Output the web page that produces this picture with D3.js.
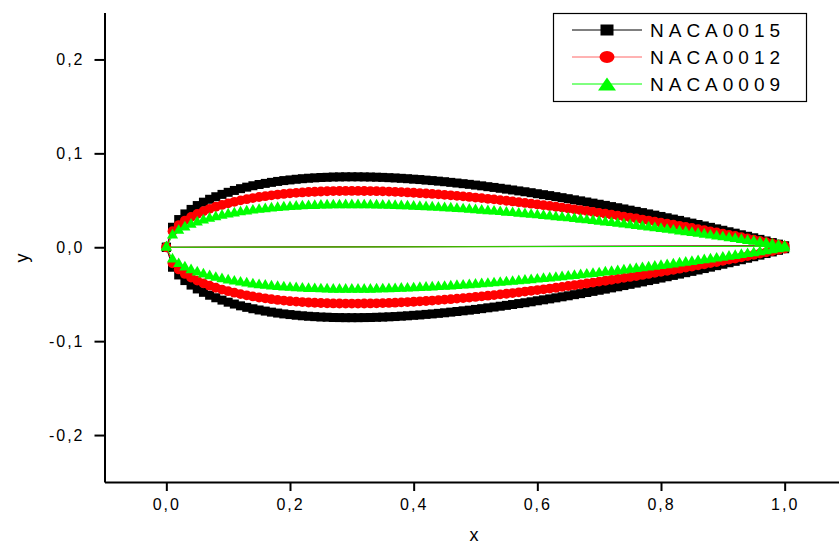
<!DOCTYPE html>
<html>
<head>
<meta charset="utf-8">
<script src="https://cdn.jsdelivr.net/npm/d3@7"></script>
<style>
  html, body { margin: 0; padding: 0; background: #fff; }
  text { font-family: "Liberation Sans", Arial, sans-serif; }
</style>
</head>
<body>
<svg id="chart" width="839" height="544"></svg>
<script>
// chord positions, 0.00 .. 1.00
var xs = [0, 0.01, 0.02, 0.03, 0.04, 0.05, 0.06, 0.07, 0.08, 0.09,
          0.10, 0.11, 0.12, 0.13, 0.14, 0.15, 0.16, 0.17, 0.18, 0.19,
          0.20, 0.21, 0.22, 0.23, 0.24, 0.25, 0.26, 0.27, 0.28, 0.29,
          0.30, 0.31, 0.32, 0.33, 0.34, 0.35, 0.36, 0.37, 0.38, 0.39,
          0.40, 0.41, 0.42, 0.43, 0.44, 0.45, 0.46, 0.47, 0.48, 0.49,
          0.50, 0.51, 0.52, 0.53, 0.54, 0.55, 0.56, 0.57, 0.58, 0.59,
          0.60, 0.61, 0.62, 0.63, 0.64, 0.65, 0.66, 0.67, 0.68, 0.69,
          0.70, 0.71, 0.72, 0.73, 0.74, 0.75, 0.76, 0.77, 0.78, 0.79,
          0.80, 0.81, 0.82, 0.83, 0.84, 0.85, 0.86, 0.87, 0.88, 0.89,
          0.90, 0.91, 0.92, 0.93, 0.94, 0.95, 0.96, 0.97, 0.98, 0.99,
          1.00];

var upper0015 = [0, 0.0213, 0.0295, 0.0355, 0.0403, 0.0444, 0.0480, 0.0511, 0.0538, 0.0563,
                 0.0585, 0.0605, 0.0624, 0.0640, 0.0655, 0.0668, 0.0680, 0.0691, 0.0701, 0.0710,
                 0.0717, 0.0724, 0.0730, 0.0735, 0.0739, 0.0743, 0.0745, 0.0748, 0.0749, 0.0750,
                 0.0750, 0.0750, 0.0749, 0.0748, 0.0746, 0.0744, 0.0741, 0.0738, 0.0734, 0.0730,
                 0.0725, 0.0721, 0.0715, 0.0710, 0.0704, 0.0698, 0.0691, 0.0684, 0.0677, 0.0670,
                 0.0662, 0.0654, 0.0645, 0.0637, 0.0628, 0.0619, 0.0610, 0.0600, 0.0591, 0.0581,
                 0.0570, 0.0560, 0.0550, 0.0539, 0.0528, 0.0517, 0.0505, 0.0494, 0.0482, 0.0470,
                 0.0458, 0.0446, 0.0433, 0.0421, 0.0408, 0.0395, 0.0382, 0.0369, 0.0355, 0.0342,
                 0.0328, 0.0314, 0.0300, 0.0286, 0.0271, 0.0257, 0.0242, 0.0227, 0.0212, 0.0196,
                 0.0181, 0.0165, 0.0150, 0.0133, 0.0117, 0.0101, 0.0084, 0.0067, 0.0050, 0.0033,
                 0.0016];
var lower0015 = [0, -0.0213, -0.0295, -0.0355, -0.0403, -0.0444, -0.0480, -0.0511, -0.0538, -0.0563,
                 -0.0585, -0.0605, -0.0624, -0.0640, -0.0655, -0.0668, -0.0680, -0.0691, -0.0701, -0.0710,
                 -0.0717, -0.0724, -0.0730, -0.0735, -0.0739, -0.0743, -0.0745, -0.0748, -0.0749, -0.0750,
                 -0.0750, -0.0750, -0.0749, -0.0748, -0.0746, -0.0744, -0.0741, -0.0738, -0.0734, -0.0730,
                 -0.0725, -0.0721, -0.0715, -0.0710, -0.0704, -0.0698, -0.0691, -0.0684, -0.0677, -0.0670,
                 -0.0662, -0.0654, -0.0645, -0.0637, -0.0628, -0.0619, -0.0610, -0.0600, -0.0591, -0.0581,
                 -0.0570, -0.0560, -0.0550, -0.0539, -0.0528, -0.0517, -0.0505, -0.0494, -0.0482, -0.0470,
                 -0.0458, -0.0446, -0.0433, -0.0421, -0.0408, -0.0395, -0.0382, -0.0369, -0.0355, -0.0342,
                 -0.0328, -0.0314, -0.0300, -0.0286, -0.0271, -0.0257, -0.0242, -0.0227, -0.0212, -0.0196,
                 -0.0181, -0.0165, -0.0150, -0.0133, -0.0117, -0.0101, -0.0084, -0.0067, -0.0050, -0.0033,
                 -0.0016];

var upper0012 = [0, 0.0170, 0.0236, 0.0284, 0.0323, 0.0355, 0.0384, 0.0409, 0.0431, 0.0451,
                 0.0468, 0.0484, 0.0499, 0.0512, 0.0524, 0.0535, 0.0544, 0.0553, 0.0561, 0.0568,
                 0.0574, 0.0579, 0.0584, 0.0588, 0.0591, 0.0594, 0.0596, 0.0598, 0.0599, 0.0600,
                 0.0600, 0.0600, 0.0599, 0.0598, 0.0597, 0.0595, 0.0593, 0.0590, 0.0587, 0.0584,
                 0.0580, 0.0576, 0.0572, 0.0568, 0.0563, 0.0558, 0.0553, 0.0547, 0.0542, 0.0536,
                 0.0529, 0.0523, 0.0516, 0.0510, 0.0502, 0.0495, 0.0488, 0.0480, 0.0472, 0.0464,
                 0.0456, 0.0448, 0.0440, 0.0431, 0.0422, 0.0413, 0.0404, 0.0395, 0.0386, 0.0376,
                 0.0366, 0.0357, 0.0347, 0.0337, 0.0326, 0.0316, 0.0306, 0.0295, 0.0284, 0.0273,
                 0.0262, 0.0251, 0.0240, 0.0228, 0.0217, 0.0205, 0.0193, 0.0181, 0.0169, 0.0157,
                 0.0145, 0.0132, 0.0120, 0.0107, 0.0094, 0.0081, 0.0067, 0.0054, 0.0040, 0.0027,
                 0.0013];
var lower0012 = [0, -0.0170, -0.0236, -0.0284, -0.0323, -0.0355, -0.0384, -0.0409, -0.0431, -0.0451,
                 -0.0468, -0.0484, -0.0499, -0.0512, -0.0524, -0.0535, -0.0544, -0.0553, -0.0561, -0.0568,
                 -0.0574, -0.0579, -0.0584, -0.0588, -0.0591, -0.0594, -0.0596, -0.0598, -0.0599, -0.0600,
                 -0.0600, -0.0600, -0.0599, -0.0598, -0.0597, -0.0595, -0.0593, -0.0590, -0.0587, -0.0584,
                 -0.0580, -0.0576, -0.0572, -0.0568, -0.0563, -0.0558, -0.0553, -0.0547, -0.0542, -0.0536,
                 -0.0529, -0.0523, -0.0516, -0.0510, -0.0502, -0.0495, -0.0488, -0.0480, -0.0472, -0.0464,
                 -0.0456, -0.0448, -0.0440, -0.0431, -0.0422, -0.0413, -0.0404, -0.0395, -0.0386, -0.0376,
                 -0.0366, -0.0357, -0.0347, -0.0337, -0.0326, -0.0316, -0.0306, -0.0295, -0.0284, -0.0273,
                 -0.0262, -0.0251, -0.0240, -0.0228, -0.0217, -0.0205, -0.0193, -0.0181, -0.0169, -0.0157,
                 -0.0145, -0.0132, -0.0120, -0.0107, -0.0094, -0.0081, -0.0067, -0.0054, -0.0040, -0.0027,
                 -0.0013];

var upper0009 = [0, 0.0128, 0.0177, 0.0213, 0.0242, 0.0267, 0.0288, 0.0306, 0.0323, 0.0338,
                 0.0351, 0.0363, 0.0374, 0.0384, 0.0393, 0.0401, 0.0408, 0.0415, 0.0421, 0.0426,
                 0.0430, 0.0434, 0.0438, 0.0441, 0.0443, 0.0446, 0.0447, 0.0449, 0.0449, 0.0450,
                 0.0450, 0.0450, 0.0449, 0.0449, 0.0448, 0.0446, 0.0444, 0.0443, 0.0440, 0.0438,
                 0.0435, 0.0432, 0.0429, 0.0426, 0.0422, 0.0419, 0.0415, 0.0410, 0.0406, 0.0402,
                 0.0397, 0.0392, 0.0387, 0.0382, 0.0377, 0.0371, 0.0366, 0.0360, 0.0354, 0.0348,
                 0.0342, 0.0336, 0.0330, 0.0323, 0.0317, 0.0310, 0.0303, 0.0296, 0.0289, 0.0282,
                 0.0275, 0.0267, 0.0260, 0.0252, 0.0245, 0.0237, 0.0229, 0.0221, 0.0213, 0.0205,
                 0.0197, 0.0188, 0.0180, 0.0171, 0.0163, 0.0154, 0.0145, 0.0136, 0.0127, 0.0118,
                 0.0109, 0.0099, 0.0090, 0.0080, 0.0070, 0.0061, 0.0051, 0.0041, 0.0030, 0.0020,
                 0.0010];
var lower0009 = [0, -0.0128, -0.0177, -0.0213, -0.0242, -0.0267, -0.0288, -0.0306, -0.0323, -0.0338,
                 -0.0351, -0.0363, -0.0374, -0.0384, -0.0393, -0.0401, -0.0408, -0.0415, -0.0421, -0.0426,
                 -0.0430, -0.0434, -0.0438, -0.0441, -0.0443, -0.0446, -0.0447, -0.0449, -0.0449, -0.0450,
                 -0.0450, -0.0450, -0.0449, -0.0449, -0.0448, -0.0446, -0.0444, -0.0443, -0.0440, -0.0438,
                 -0.0435, -0.0432, -0.0429, -0.0426, -0.0422, -0.0419, -0.0415, -0.0410, -0.0406, -0.0402,
                 -0.0397, -0.0392, -0.0387, -0.0382, -0.0377, -0.0371, -0.0366, -0.0360, -0.0354, -0.0348,
                 -0.0342, -0.0336, -0.0330, -0.0323, -0.0317, -0.0310, -0.0303, -0.0296, -0.0289, -0.0282,
                 -0.0275, -0.0267, -0.0260, -0.0252, -0.0245, -0.0237, -0.0229, -0.0221, -0.0213, -0.0205,
                 -0.0197, -0.0188, -0.0180, -0.0171, -0.0163, -0.0154, -0.0145, -0.0136, -0.0127, -0.0118,
                 -0.0109, -0.0099, -0.0090, -0.0080, -0.0070, -0.0061, -0.0051, -0.0041, -0.0030, -0.0020,
                 -0.0010];

var seriesNames = ['NACA0015', 'NACA0012', 'NACA0009'];
var xMajorTicks = [0, 0.2, 0.4, 0.6, 0.8, 1.0];
var xMinorTicks = [-0.1, 0.1, 0.3, 0.5, 0.7, 0.9, 1.1];
var yMajorTicks = [-0.2, -0.1, 0, 0.1, 0.2];
var yMinorTicks = [-0.25, -0.15, -0.05, 0.05, 0.15, 0.25];

var svg = d3.select('#chart');
svg.append('rect').attr('width', 839).attr('height', 544).attr('fill', '#fff');

var x = d3.scaleLinear().domain([-0.1, 1.1]).range([104.5, 846.5]);
var y = d3.scaleLinear().domain([-0.25, 0.25]).range([482, 12.5]);

function commaFmt(v) { return d3.format('.1f')(v).replace('.', ',').replace('−', '-'); }

var styles = [
    { color: '#000000', sym: d3.symbolSquare, size: 81 },
    { color: '#ff0000', sym: d3.symbolCircle, size: 76 },
    { color: '#00ff00', sym: d3.symbolTriangle, size: 54 }
];

var seriesData = [[upper0015, lower0015], [upper0012, lower0012], [upper0009, lower0009]];

var line = d3.line().x(function(d) { return x(d[0]); }).y(function(d) { return y(d[1]); });

seriesData.forEach(function(sd, i) {
    var pts = [];
    xs.forEach(function(xv, j) { pts.push([xv, sd[0][j]]); });
    xs.forEach(function(xv, j) { pts.push([xv, sd[1][j]]); });
    var st = styles[i];
    var g = svg.append('g').attr('class', 'series-' + i);
    g.append('path').attr('d', line(pts)).attr('fill', 'none')
     .attr('stroke', st.color).attr('stroke-width', 1);
    g.selectAll('path.m').data(pts).enter().append('path').attr('class', 'm')
     .attr('d', d3.symbol().type(st.sym).size(st.size)())
     .attr('transform', function(d) { return 'translate(' + x(d[0]) + ',' + y(d[1]) + ')'; })
     .attr('fill', st.color);
});

// axes
var xAxisG = svg.append('g').attr('transform', 'translate(0,482)');
xAxisG.call(d3.axisBottom(x).tickValues(xMinorTicks).tickSize(5).tickSizeOuter(0).tickFormat(''));
xAxisG.call(d3.axisBottom(x).tickValues(xMajorTicks).tickSize(9).tickSizeOuter(0).tickPadding(8).tickFormat(commaFmt));

var yAxisG = svg.append('g').attr('transform', 'translate(104.5,0)');
yAxisG.call(d3.axisLeft(y).tickValues(yMinorTicks).tickSize(5).tickSizeOuter(0).tickFormat(''));
yAxisG.call(d3.axisLeft(y).tickValues(yMajorTicks).tickSize(10).tickSizeOuter(0).tickPadding(10).tickFormat(commaFmt));

svg.selectAll('.domain').attr('stroke', '#000').attr('stroke-width', 2);
svg.selectAll('.tick line').attr('stroke', '#000').attr('stroke-width', 2);
svg.selectAll('.tick text').attr('fill', '#000').style('font-size', '16px')
   .style('font-family', '"Liberation Sans", Arial, sans-serif').style('letter-spacing', '2px');

svg.append('text').attr('x', 474).attr('y', 541).attr('text-anchor', 'middle')
   .style('font-size', '18px').text('x');
svg.append('text').attr('transform', 'translate(28,258) rotate(-90)').attr('text-anchor', 'middle')
   .style('font-size', '18px').text('y');

// legend
var legend = svg.append('g');
legend.append('rect').attr('x', 553.5).attr('y', 13.5).attr('width', 253).attr('height', 88)
      .attr('fill', '#fff').attr('stroke', '#000').attr('stroke-width', 1.2);
var legendSizes = [[13, 11], [15, 12], [18, 13]];
seriesNames.forEach(function(name, i) {
    var ly = 30 + i * 27;
    var st = styles[i];
    legend.append('line').attr('x1', 572).attr('x2', 642).attr('y1', ly).attr('y2', ly)
          .attr('stroke', st.color).attr('stroke-opacity', i === 1 ? 0.6 : 1).attr('stroke-width', 1);
    var w = legendSizes[i][0], h = legendSizes[i][1];
    if (i === 0) {
        legend.append('rect').attr('x', 607 - w / 2).attr('y', ly - h / 2).attr('width', w).attr('height', h).attr('fill', st.color);
    } else if (i === 1) {
        legend.append('ellipse').attr('cx', 607).attr('cy', ly).attr('rx', w / 2).attr('ry', h / 2).attr('fill', st.color);
    } else {
        legend.append('path').attr('d', 'M' + (607 - w / 2) + ',' + (ly + h / 2) + 'L607,' + (ly - h / 2) + 'L' + (607 + w / 2) + ',' + (ly + h / 2) + 'Z')
              .attr('fill', st.color);
    }
    legend.append('text').attr('x', 650).attr('y', ly + 7).style('font-size', '19px')
          .style('letter-spacing', '5px').text(name);
});
</script>
</body>
</html>
